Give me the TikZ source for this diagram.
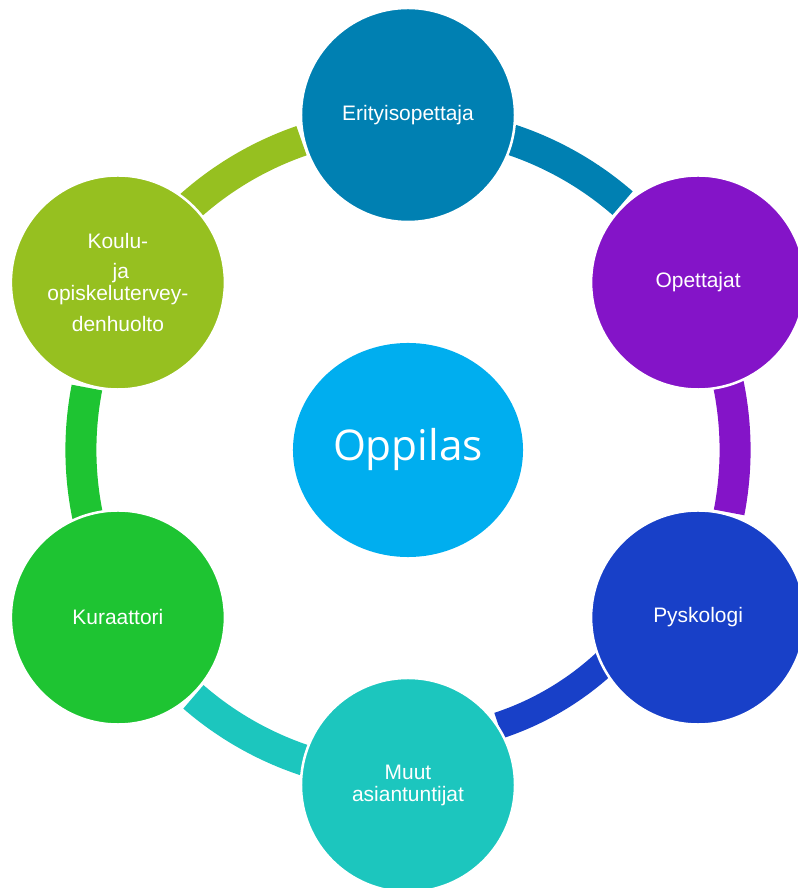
\documentclass[tikz,border=0pt]{standalone}
\usepackage{fontspec}
\setmainfont{Liberation Sans}
\newfontfamily\oppfont{Open Sans}
\usepackage{tikz}
\usetikzlibrary{shapes.geometric}

\definecolor{eriC}{RGB}{0,128,178}
\definecolor{opeC}{RGB}{132,20,200}
\definecolor{psyC}{RGB}{24,64,200}
\definecolor{muuC}{RGB}{28,198,190}
\definecolor{kurC}{RGB}{30,196,50}
\definecolor{kouC}{RGB}{150,192,32}
\definecolor{oppC}{RGB}{0,174,239}

\tikzset{
  member/.style={circle, draw=white, line width=1.8pt, minimum size=5.35cm, inner sep=0pt,
    text=white, align=center, font=\fontsize{14.9}{15.6}\selectfont},
  ring/.style={line width=0.775cm}
}

\begin{document}
\begin{tikzpicture}[x=0.025cm, y=0.025cm]
\useasboundingbox (0,0) rectangle (797,888);
\coordinate (c) at (408,438);
\draw[ring, eriC] ([shift={(90:8.175cm)}]c) arc[start angle=90, end angle=49, radius=8.175cm];
\draw[ring, opeC] ([shift={(30:8.175cm)}]c) arc[start angle=30, end angle=-11, radius=8.175cm];
\draw[line width=0.67cm, psyC] ([shift={(-40:7.25cm)}]c) arc[start angle=-40, end angle=-71.8, radius=7.25cm];
\draw[ring, muuC] ([shift={(-90:8.175cm)}]c) arc[start angle=-90, end angle=-131, radius=8.175cm];
\draw[ring, kurC] ([shift={(-150:8.175cm)}]c) arc[start angle=-150, end angle=-191, radius=8.175cm];
\draw[ring, kouC] ([shift={(150:8.175cm)}]c) arc[start angle=150, end angle=109, radius=8.175cm];
\node[ellipse, fill=oppC, minimum width=5.75cm, minimum height=5.35cm, inner sep=0pt,
  text=white, font=\oppfont\fontsize{30.1}{36}\selectfont] (oppilas) at (c) {Oppilas};
\node[member, fill=eriC] (eri) at (408,773) {Erityisopettaja};
\node[member, fill=opeC] (ope) at (698.1,605.5) {Opettajat};
\node[member, fill=psyC] (psy) at (698.1,270.5) {Pyskologi};
\node[member, fill=muuC] (muu) at (408,103) {Muut\\asiantuntijat};
\node[member, fill=kurC] (kur) at (117.9,270.5) {Kuraattori};
\node[member, fill=kouC] (kou) at (117.9,605.5) {Koulu-\\[5.7pt]\ ja\\opiskelutervey-\\[6.4pt]denhuolto};
\end{tikzpicture}
\end{document}
